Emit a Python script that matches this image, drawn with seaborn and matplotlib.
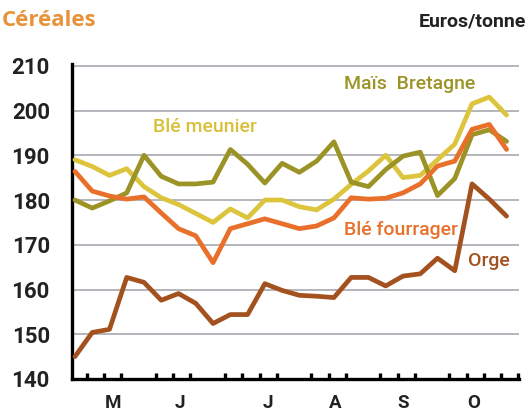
import numpy as np
import pandas as pd
import matplotlib
matplotlib.use('Agg')
import matplotlib.pyplot as plt
import matplotlib.transforms as mtransforms
import seaborn as sns

# weekly prices, euros per tonne
weeks = list(range(26))
ble_meunier = [189, 187.5, 185.5, 187, 183, 180.5, 179, 177, 175, 178, 176, 180, 180,
               178.5, 177.8, 180.2, 183.5, 186.5, 190, 185, 185.5, 189, 192.5, 201.5, 203, 199]
mais_bretagne = [180, 178.2, 179.8, 181.6, 190, 185.3, 183.6, 183.6, 184, 191.3, 188, 183.8, 188.2,
                 186.2, 188.7, 193, 184, 183, 186.8, 189.8, 190.7, 181, 184.8, 194.6, 195.7, 193.1]
ble_fourrager = [186.4, 182, 180.9, 180.2, 180.7, 177.1, 173.6, 172, 166, 173.6, 174.7, 175.8, 174.7,
                 173.6, 174.2, 176, 180.5, 180.2, 180.4, 181.6, 183.6, 187.6, 188.7, 195.8, 196.9, 191.3]
orge = [145, 150.4, 151.1, 162.7, 161.6, 157.6, 159.1, 156.9, 152.4, 154.4, 154.4, 161.3, 159.8,
        158.7, 158.5, 158.2, 162.7, 162.7, 160.8, 163, 163.5, 167, 164.2, 183.6, 180.2, 176.4]

series_names = ['Blé meunier', 'Maïs Bretagne', 'Blé fourrager', 'Orge']
series_colors = ['#dcc43c', '#9c9326', '#e8702a', '#a3521f']

y_ticks = [140, 150, 160, 170, 180, 190, 200, 210]
month_labels = ['M', 'J', 'J', 'A', 'S', 'O']
month_pos = [2.2, 6.1, 11.2, 15.1, 19.0, 23.1]
big_tick_idx = [3, 7, 12, 16, 20]

df = pd.DataFrame({'week': weeks * 4,
                   'price': ble_meunier + mais_bretagne + ble_fourrager + orge,
                   'serie': sum([[n] * 26 for n in series_names], [])})

sns.set_style('white')
plt.rcParams['font.family'] = ['Roboto', 'DejaVu Sans']

fig = plt.figure(figsize=(5.28, 4.12), dpi=100)
ax = fig.add_axes([72 / 528, 1 - 379 / 412, 447 / 528, 315 / 412])

# grey horizontal gridlines behind the lines
for v in y_ticks[1:]:
    ax.axhline(v, color='#a0a0aa', lw=1.1, zorder=0)

sns.lineplot(data=df, x='week', y='price', hue='serie',
             palette=dict(zip(series_names, series_colors)),
             lw=3.4, legend=False, ax=ax, zorder=3)

ax.set_xlim(-0.17, 25.72)
ax.set_ylim(140, 210.4)
ax.set_xlabel('')
ax.set_ylabel('')

# y ticks
ax.set_yticks(y_ticks)
ax.set_yticklabels([str(v) for v in y_ticks], fontsize=16, fontweight='bold', color='#222222')
ax.tick_params(axis='y', direction='in', length=6, width=2.6, color='black', pad=16)

# x ticks: small weekly, bigger at month starts
tick_x = [0.69 + i for i in range(26)]
ax.set_xticks([tick_x[i] for i in big_tick_idx])
ax.set_xticks([t for i, t in enumerate(tick_x) if i not in big_tick_idx], minor=True)
ax.set_xticklabels([])
ax.tick_params(axis='x', which='major', direction='in', length=8, width=3, color='black')
ax.tick_params(axis='x', which='minor', direction='in', length=4, width=2.4, color='black',
               bottom=True)

for s in ['top', 'right']:
    ax.spines[s].set_visible(False)
for s in ['left', 'bottom']:
    ax.spines[s].set_linewidth(2.4)
    ax.spines[s].set_color('black')

trans = mtransforms.blended_transform_factory(ax.transData, ax.transAxes)
for lab, p in zip(month_labels, month_pos):
    ax.text(p, -0.075, lab, transform=trans, ha='center', va='center',
            fontsize=13.5, fontweight='bold', color='#222222')

# series labels
ax.text(19.4, 206, 'Maïs  Bretagne', color='#9c9326', fontsize=14, fontweight='medium',
        ha='center', va='center')
ax.text(7.5, 196.4, 'Blé meunier', color='#d8c03a', fontsize=14, fontweight='medium',
        ha='center', va='center')
ax.text(18.9, 173.4, 'Blé fourrager', color='#e8702a', fontsize=14, fontweight='medium',
        ha='center', va='center', zorder=4)
ax.text(24.0, 166.3, 'Orge', color='#a3521f', fontsize=14, fontweight='medium',
        ha='center', va='center')

fig.text(2 / 528, 1 - 21 / 412, 'Céréales', color='#e8923a', fontsize=16, fontweight='bold',
         family=['Open Sans', 'DejaVu Sans'], ha='left', va='center')
fig.text(526 / 528, 1 - 22 / 412, 'Euros/tonne', color='#222222', fontsize=14,
         fontweight='bold', ha='right', va='center')

fig.savefig('out.png', dpi=100)
